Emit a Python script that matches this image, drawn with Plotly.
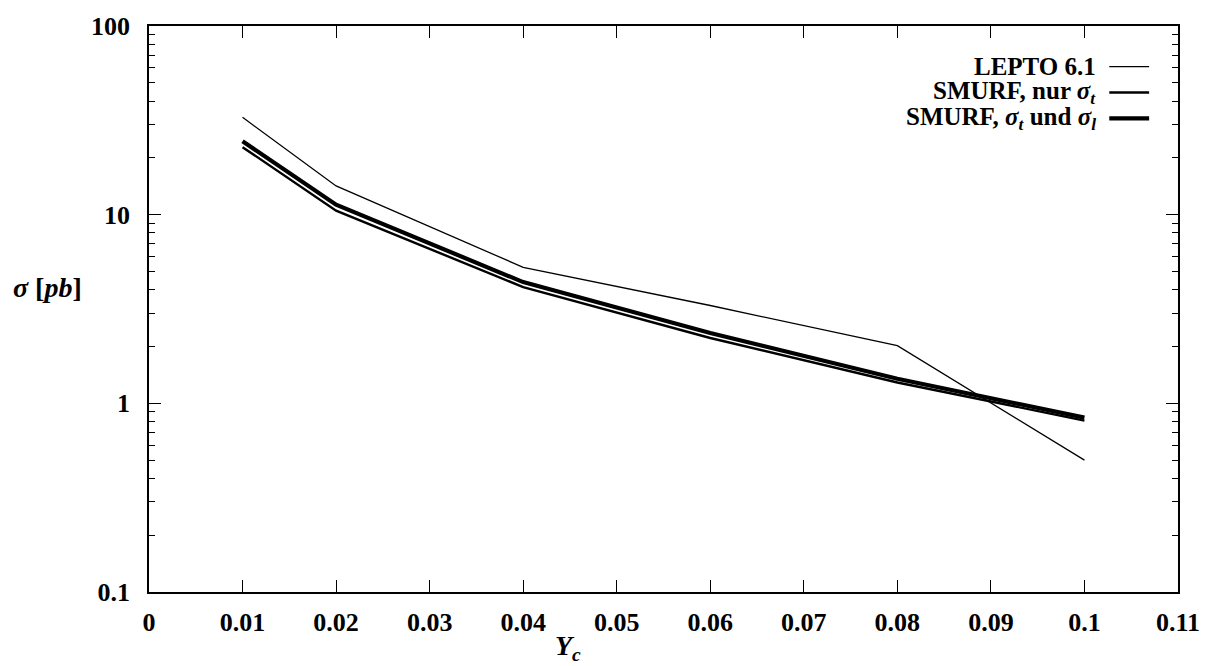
import plotly.graph_objects as go

# Jet cross section versus the resolution parameter Y_c
yc = [0.01, 0.02, 0.04, 0.06, 0.08, 0.1]
lepto = [32.8, 14.2, 5.26, 3.3, 2.02, 0.50]
smurf_t = [22.8, 10.5, 4.13, 2.22, 1.29, 0.81]
smurf_tl = [24.5, 11.3, 4.39, 2.36, 1.35, 0.84]

x_ticks = [0, 0.01, 0.02, 0.03, 0.04, 0.05, 0.06, 0.07, 0.08, 0.09, 0.1, 0.11]
x_ticktext = ["0", "0.01", "0.02", "0.03", "0.04", "0.05", "0.06", "0.07", "0.08", "0.09", "0.1", "0.11"]
y_ticks = [0.1, 1, 10, 100]
y_ticktext = ["0.1", "1", "10", "100"]
y_minor = [m * 10 ** e for e in (-1, 0, 1) for m in range(2, 10)]

legend_labels = ["LEPTO 6.1",
                 "SMURF, nur <i>σ</i><sub><i>t</i></sub>",
                 "SMURF, <i>σ</i><sub><i>t</i></sub> und <i>σ</i><sub><i>l</i></sub>"]
widths = [1.3, 2.4, 4.2]

FONT = "Liberation Serif"
L, R, T, B = 149, 1182, 22, 592


def px(x):
    return (x - L) / (R - L)


def py(y):
    return 1 - (y - T) / (B - T)


fig = go.Figure()
for ys, w in zip([lepto, smurf_t, smurf_tl], widths):
    fig.add_trace(go.Scatter(x=yc, y=ys, mode="lines",
                             line=dict(color="black", width=w),
                             showlegend=False))

axis_common = dict(showline=True, linecolor="black", linewidth=1.6, mirror="allticks",
                   ticks="inside", tickcolor="black", tickwidth=1.4,
                   showgrid=False, zeroline=False,
                   tickfont=dict(family=FONT, size=26, color="black", weight="bold"))

fig.update_xaxes(range=[0, 0.11], tickvals=x_ticks, ticktext=x_ticktext,
                 ticklen=12, ticklabelstandoff=6, **axis_common)
fig.update_yaxes(type="log", range=[-1, 2], tickvals=y_ticks, ticktext=y_ticktext,
                 ticklen=12, ticklabelstandoff=12,
                 minor=dict(tickvals=y_minor, ticks="inside", ticklen=6,
                            tickcolor="black", tickwidth=1.4, showgrid=False),
                 **axis_common)

# Legend: label text on the left, line sample on the right
legend_y = [63, 89, 115]
for label, w, yy in zip(legend_labels, widths, legend_y):
    fig.add_annotation(xref="paper", yref="paper", x=px(1101), y=py(yy),
                       text=label, showarrow=False,
                       xanchor="right", yanchor="middle", borderpad=0,
                       font=dict(family=FONT, size=25, color="black", weight="bold"))
    fig.add_shape(type="line", xref="paper", yref="paper",
                  x0=px(1113), x1=px(1153), y0=py(yy), y1=py(yy),
                  line=dict(color="black", width=w))

# Axis titles
fig.add_annotation(xref="paper", yref="paper", x=px(570), y=py(648),
                   text="<i>Y</i><sub><i>c</i></sub>", showarrow=False,
                   xanchor="center", yanchor="middle",
                   font=dict(family=FONT, size=28, color="black", weight="bold"))
fig.add_annotation(xref="paper", yref="paper", x=px(10), y=py(285),
                   text="<i>σ</i> [<i>pb</i>]", showarrow=False,
                   xanchor="left", yanchor="middle",
                   font=dict(family=FONT, size=28, color="black", weight="bold"))

fig.update_layout(width=1212, height=666,
                  margin=dict(l=L, r=1212 - R, t=T, b=666 - B),
                  paper_bgcolor="white", plot_bgcolor="white")

fig.write_html("out.html")
